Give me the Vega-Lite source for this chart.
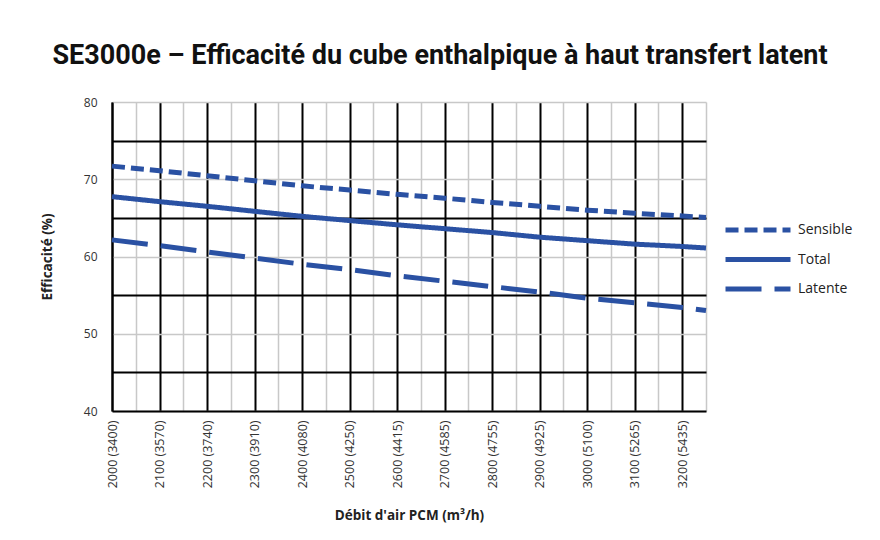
{
  "$schema": "https://vega.github.io/schema/vega-lite/v6.json",
  "width": 594,
  "height": 309,
  "autosize": {"type": "none"},
  "padding": {"left": 112, "top": 102, "right": 174, "bottom": 129},
  "background": "white",
  "title": {
    "text": "SE3000e – Efficacité du cube enthalpique à haut transfert latent",
    "font": "Liberation Sans Narrow, Roboto",
    "fontSize": 27,
    "fontWeight": "bold",
    "color": "#111111",
    "anchor": "middle",
    "dx": 31,
    "offset": 26
  },
  "config": {
    "view": {"stroke": null},
    "font": "Open Sans",
    "legend": {"labelFont": "Open Sans", "labelFontSize": 14, "labelColor": "#222222"}
  },
  "data": {
    "values": [
      {"x": 2000, "eff": 71.7, "serie": "Sensible"},
      {"x": 2100, "eff": 71.1, "serie": "Sensible"},
      {"x": 2200, "eff": 70.45, "serie": "Sensible"},
      {"x": 2300, "eff": 69.8, "serie": "Sensible"},
      {"x": 2400, "eff": 69.15, "serie": "Sensible"},
      {"x": 2500, "eff": 68.6, "serie": "Sensible"},
      {"x": 2600, "eff": 68.05, "serie": "Sensible"},
      {"x": 2700, "eff": 67.55, "serie": "Sensible"},
      {"x": 2800, "eff": 67.0, "serie": "Sensible"},
      {"x": 2900, "eff": 66.5, "serie": "Sensible"},
      {"x": 3000, "eff": 66.0, "serie": "Sensible"},
      {"x": 3100, "eff": 65.6, "serie": "Sensible"},
      {"x": 3200, "eff": 65.25, "serie": "Sensible"},
      {"x": 3250, "eff": 65.05, "serie": "Sensible"},
      {"x": 2000, "eff": 67.75, "serie": "Total"},
      {"x": 2100, "eff": 67.1, "serie": "Total"},
      {"x": 2200, "eff": 66.5, "serie": "Total"},
      {"x": 2300, "eff": 65.85, "serie": "Total"},
      {"x": 2400, "eff": 65.2, "serie": "Total"},
      {"x": 2500, "eff": 64.65, "serie": "Total"},
      {"x": 2600, "eff": 64.1, "serie": "Total"},
      {"x": 2700, "eff": 63.6, "serie": "Total"},
      {"x": 2800, "eff": 63.1, "serie": "Total"},
      {"x": 2900, "eff": 62.5, "serie": "Total"},
      {"x": 3000, "eff": 62.05, "serie": "Total"},
      {"x": 3100, "eff": 61.6, "serie": "Total"},
      {"x": 3200, "eff": 61.3, "serie": "Total"},
      {"x": 3250, "eff": 61.1, "serie": "Total"},
      {"x": 2000, "eff": 62.15, "serie": "Latente"},
      {"x": 2100, "eff": 61.4, "serie": "Latente"},
      {"x": 2200, "eff": 60.6, "serie": "Latente"},
      {"x": 2300, "eff": 59.8, "serie": "Latente"},
      {"x": 2400, "eff": 59.0, "serie": "Latente"},
      {"x": 2500, "eff": 58.3, "serie": "Latente"},
      {"x": 2600, "eff": 57.5, "serie": "Latente"},
      {"x": 2700, "eff": 56.8, "serie": "Latente"},
      {"x": 2800, "eff": 56.1, "serie": "Latente"},
      {"x": 2900, "eff": 55.4, "serie": "Latente"},
      {"x": 3000, "eff": 54.6, "serie": "Latente"},
      {"x": 3100, "eff": 54.0, "serie": "Latente"},
      {"x": 3200, "eff": 53.4, "serie": "Latente"},
      {"x": 3250, "eff": 53.0, "serie": "Latente"}
    ]
  },
  "layer": [
    {
      "mark": {"type": "line", "opacity": 0},
      "encoding": {
        "x": {
          "field": "x", "type": "quantitative",
          "scale": {"domain": [2000, 3250], "nice": false, "zero": false},
          "axis": {
            "orient": "top", "values": [2050, 2150, 2250, 2350, 2450, 2550, 2650, 2750, 2850, 2950, 3050, 3150, 3250],
            "labels": false, "ticks": false, "domain": false, "title": null,
            "grid": true, "gridColor": "#c8c8c8", "gridWidth": 1.5, "gridOpacity": 1
          }
        },
        "y": {
          "field": "eff", "type": "quantitative",
          "scale": {"domain": [40, 80], "nice": false, "zero": false},
          "axis": {
            "orient": "left", "values": [40, 50, 60, 70, 80],
            "ticks": false, "domain": true, "domainColor": "#000000", "domainWidth": 2,
            "labelFont": "Open Sans", "labelFontSize": 12, "labelColor": "#333333", "labelPadding": 15,
            "grid": true, "gridColor": "#c8c8c8", "gridWidth": 1.5, "gridOpacity": 1,
            "title": "Efficacité (%)", "titleFont": "Open Sans", "titleFontSize": 13.5, "titleFontWeight": "bold",
            "titleColor": "#222222", "titlePadding": 29
          }
        },
        "detail": {"field": "serie"}
      }
    },
    {
      "mark": {"type": "line", "strokeWidth": 5, "color": "#2A51A3", "strokeCap": "butt"},
      "encoding": {
        "x": {
          "field": "x", "type": "quantitative",
          "scale": {"domain": [2000, 3250], "nice": false, "zero": false},
          "axis": {
            "orient": "bottom", "values": [2000, 2100, 2200, 2300, 2400, 2500, 2600, 2700, 2800, 2900, 3000, 3100, 3200],
            "labelExpr": "datum.value + ' (' + {'2000':'3400','2100':'3570','2200':'3740','2300':'3910','2400':'4080','2500':'4250','2600':'4415','2700':'4585','2800':'4755','2900':'4925','3000':'5100','3100':'5265','3200':'5435'}['' + datum.value] + ')'",
            "labelAngle": -90, "labelFont": "Open Sans", "labelFontSize": 12.5, "labelColor": "#333333", "labelPadding": 9,
            "ticks": false, "domain": true, "domainColor": "#000000", "domainWidth": 2,
            "grid": true, "gridColor": "#000000", "gridWidth": 2, "gridOpacity": 1,
            "title": "Débit d'air PCM (m³/h)", "titleFont": "Open Sans", "titleFontSize": 13.5, "titleFontWeight": "bold",
            "titleColor": "#222222", "titlePadding": 21
          }
        },
        "y": {
          "field": "eff", "type": "quantitative",
          "scale": {"domain": [40, 80], "nice": false, "zero": false},
          "axis": {
            "orient": "right", "values": [45, 55, 65, 75],
            "labels": false, "ticks": false, "domain": false, "title": null,
            "grid": true, "gridColor": "#000000", "gridWidth": 2, "gridOpacity": 1
          }
        },
        "strokeDash": {
          "field": "serie", "type": "nominal",
          "scale": {"domain": ["Sensible", "Total", "Latente"], "range": [[13, 6], [1, 0], [36, 13]]},
          "legend": {
            "title": null, "orient": "none", "legendX": 635, "legendY": 117,
            "symbolType": "M-4,0H4", "symbolSize": 264, "symbolStrokeWidth": 5, "symbolStrokeColor": "#2A51A3",
            "labelOffset": 29, "rowPadding": 8.5, "padding": 0
          }
        }
      }
    }
  ],
  "resolve": {"axis": {"x": "independent", "y": "independent"}}
}
